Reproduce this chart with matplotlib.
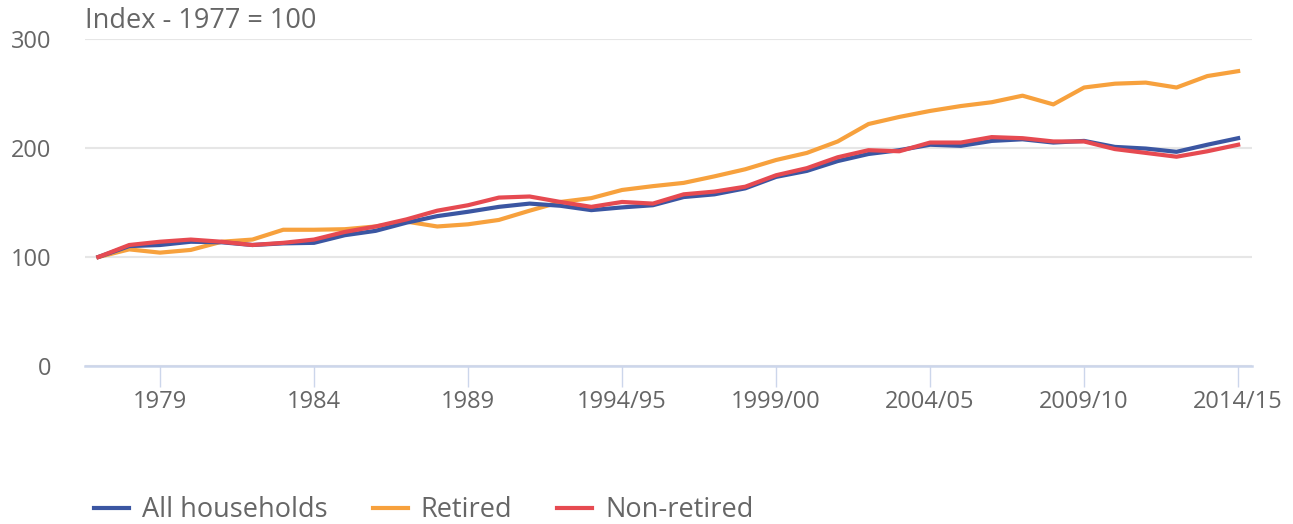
import numpy as np
import matplotlib
matplotlib.use("Agg")
import matplotlib.pyplot as plt

# ----- data (index, 1977 = 100) -----
years = [str(y) for y in range(1977, 1994)] + \
        [f"{y}/{(y + 1) % 100:02d}" for y in range(1994, 2015)]
all_hh = [100, 110, 111, 114, 113.5, 111, 112.5, 113, 120, 124, 131.5, 137.5,
          141.5, 146, 149, 147, 143, 145.5, 147.5, 155, 157.5, 163, 173.5, 179,
          188, 194.5, 198, 203, 202, 206.5, 208, 205, 206.5, 201, 199.5, 196.5,
          203, 209]
retired = [100, 107, 104, 106.5, 114, 116, 125, 125, 125.5, 128, 132.5, 128,
           130, 134, 142.5, 150.5, 154, 161.5, 165, 168, 174, 180.5, 189, 195.5,
           206, 222, 228.5, 234, 238.5, 242, 248, 240, 255.5, 259, 260, 255.5,
           266, 270.5]
non_retired = [100, 111, 114, 116, 114, 111, 113, 116, 123, 128, 134.5, 142.5,
               147.5, 154.5, 155.5, 150.5, 146, 150.5, 149, 157.5, 160, 164.5,
               175, 181.5, 191.5, 198, 197, 205, 205, 210, 209, 206, 206, 199,
               195.5, 192, 197, 203]
tick_labels = ["1979", "1984", "1989", "1994/95", "1999/00", "2004/05",
               "2009/10", "2014/15"]

plt.rcParams["font.family"] = ["Open Sans", "DejaVu Sans"]
TXT = "#666666"
FS = 19.5

fig = plt.figure(figsize=(12.93, 5.24), dpi=100)
ax = fig.add_axes([85 / 1293, 1 - 366 / 524, (1252 - 85) / 1293, (366 - 39) / 524])

x = np.arange(len(years))
lw = 3.0
ax.plot(x, retired, color="#f7a13d", lw=lw, label="Retired", zorder=3)
ax.plot(x, all_hh, color="#3b56a2", lw=lw, label="All households", zorder=4)
ax.plot(x, non_retired, color="#e64a51", lw=lw, label="Non-retired", zorder=5)

ax.set_xlim(-0.435, 37.45)
ax.set_ylim(0, 300)
ax.set_yticks([0, 100, 200, 300])
ax.grid(axis="y", color="#e6e6e6", lw=1.5)
ax.set_axisbelow(True)
for s in ["top", "right", "left"]:
    ax.spines[s].set_visible(False)
ax.spines["bottom"].set_color("#ccd6eb")
ax.spines["bottom"].set_linewidth(1.8)
ax.spines["bottom"].set_zorder(2)

ax.set_xticks([years.index(t) for t in tick_labels])
ax.set_xticklabels(tick_labels)
ax.tick_params(axis="x", colors="#ccd6eb", length=15, width=1, labelcolor=TXT,
               labelsize=17, pad=2)
ax.tick_params(axis="y", length=0, labelcolor=TXT, labelsize=17, pad=24)

fig.text(85 / 1293, 1 - 21 / 524, "Index - 1977 = 100", color=TXT,
         fontsize=FS, va="center", ha="left")

h, l = ax.get_legend_handles_labels()
order = [1, 0, 2]
fig.legend([h[i] for i in order], [l[i] for i in order], loc="center left",
           bbox_to_anchor=(94 / 1293, 1 - 510 / 524), ncol=3, frameon=False,
           fontsize=FS, labelcolor=TXT, handlelength=1.3, handletextpad=0.48,
           columnspacing=1.65, borderaxespad=0, borderpad=0)

fig.savefig("out.png", dpi=100)
